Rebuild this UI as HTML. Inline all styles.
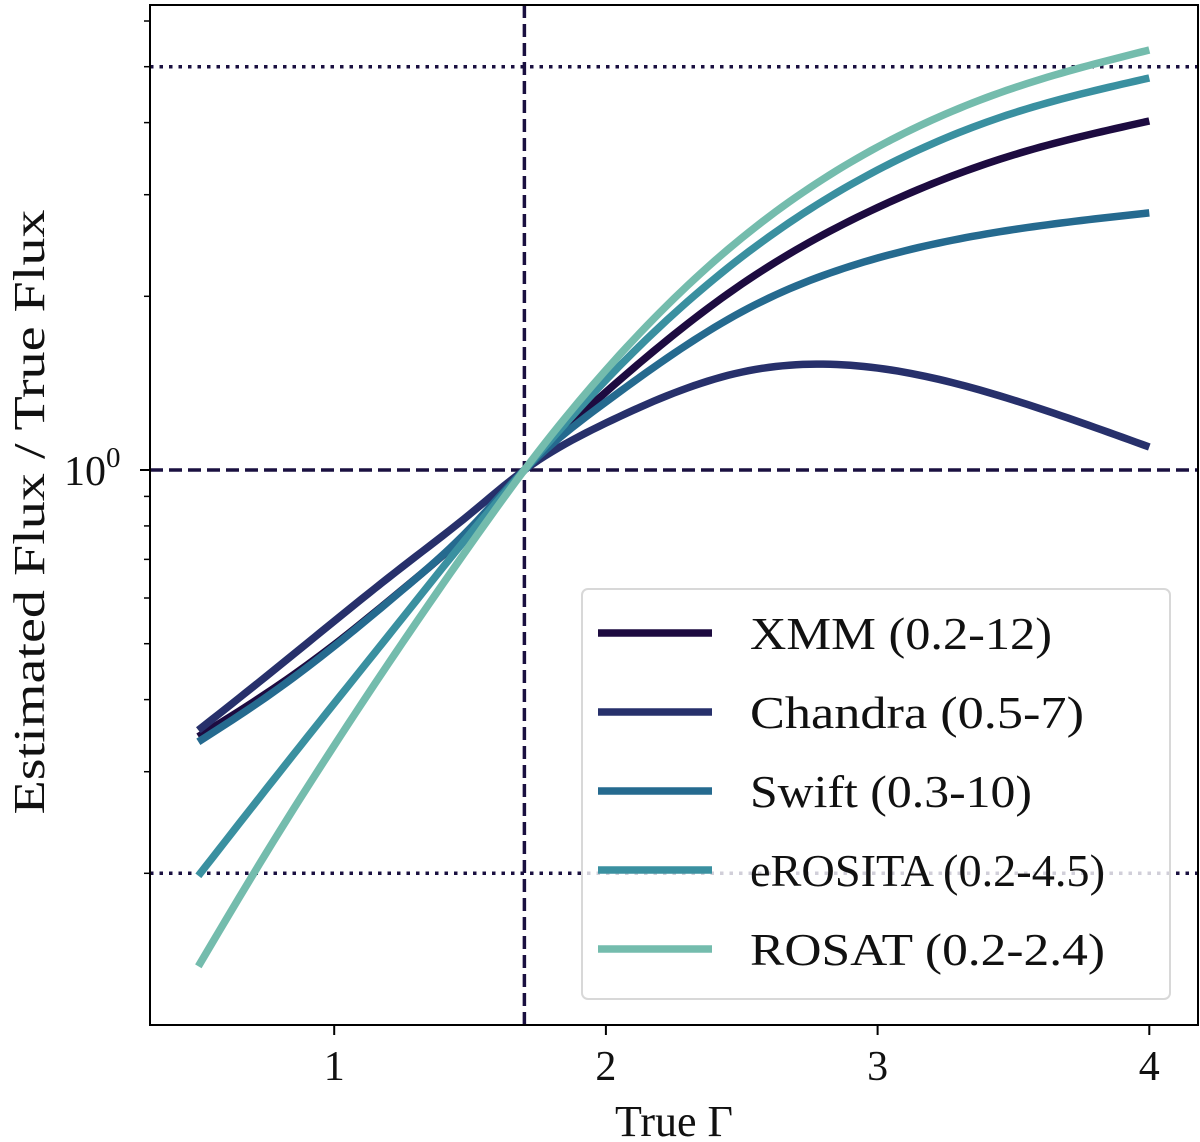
<!DOCTYPE html>
<html><head><meta charset="utf-8"><style>
html,body{margin:0;padding:0;background:#fff;}
svg{display:block;font-family:"Liberation Serif","DejaVu Serif",serif;}
</style></head><body>
<svg id="chart" width="1200" height="1142" viewBox="0 0 1200 1142" xmlns="http://www.w3.org/2000/svg">
<g id="plot"></g>
</svg>
<script>
const gammaGrid = [0.5, 0.75, 1, 1.25, 1.5, 1.7, 2, 2.5, 3, 3.5, 4];
const seriesNames = ["XMM (0.2-12)", "Chandra (0.5-7)", "Swift (0.3-10)", "eROSITA (0.2-4.5)", "ROSAT (0.2-2.4)"];
const xmmValues = [0.345, 0.410, 0.498, 0.620, 0.789, 1, 1.365, 2.10, 2.85, 3.516, 4.026];
const chandraValues = [0.354, 0.439, 0.547, 0.679, 0.839, 1, 1.206, 1.478, 1.502, 1.322, 1.096];
const swiftValues = [0.338, 0.404, 0.495, 0.619, 0.792, 1, 1.312, 1.88, 2.33, 2.61, 2.790];
const erositaValues = [0.198, 0.280, 0.394, 0.553, 0.775, 1, 1.432, 2.340, 3.311, 4.156, 4.780];
const rosatValues = [0.138, 0.217, 0.333, 0.501, 0.741, 1, 1.490, 2.524, 3.629, 4.592, 5.345];
const xTicks = [1, 2, 3, 4];
const yMinorTicks = [0.2, 0.3, 0.4, 0.5, 0.6, 0.7, 0.8, 0.9, 2, 3, 4, 5, 6];
const refGamma = 1.7, refRatio = 1, dottedHigh = 5, dottedLow = 0.2;

const colors = ["#1d0b40", "#27306b", "#256a8f", "#3a90a0", "#74bcad"];
const L = 150, R = 1198, T = 5, B = 1025;
const X = g => 62.5 + g * 271.7;
const Y = v => 470 - 577 * Math.log10(v);
const NS = "http://www.w3.org/2000/svg";
const plot = document.getElementById('plot');
function mk(tag, attrs, parent) {
  const e = document.createElementNS(NS, tag);
  for (const k in attrs) e.setAttribute(k, attrs[k]);
  (parent || plot).appendChild(e);
  return e;
}
function spline(xs, ys) {
  const n = xs.length, h = [], a = [], l = [1], mu = [0], z = [0], c = new Array(n).fill(0), b = [], d = [];
  for (let i = 0; i < n - 1; i++) h.push(xs[i + 1] - xs[i]);
  for (let i = 1; i < n - 1; i++) a[i] = 3 / h[i] * (ys[i + 1] - ys[i]) - 3 / h[i - 1] * (ys[i] - ys[i - 1]);
  for (let i = 1; i < n - 1; i++) {
    l[i] = 2 * (xs[i + 1] - xs[i - 1]) - h[i - 1] * mu[i - 1];
    mu[i] = h[i] / l[i];
    z[i] = (a[i] - h[i - 1] * z[i - 1]) / l[i];
  }
  for (let j = n - 2; j >= 0; j--) {
    c[j] = (j === 0 ? 0 : z[j]) - mu[j] * c[j + 1];
    if (j === 0) c[0] = 0;
    b[j] = (ys[j + 1] - ys[j]) / h[j] - h[j] * (c[j + 1] + 2 * c[j]) / 3;
    d[j] = (c[j + 1] - c[j]) / (3 * h[j]);
  }
  return x => {
    let i = 0;
    while (i < n - 2 && x > xs[i + 1]) i++;
    const dx = x - xs[i];
    return ys[i] + b[i] * dx + c[i] * dx * dx + d[i] * dx * dx * dx;
  };
}
const defs = mk('defs', {});
const cp = mk('clipPath', {id: 'clip'}, defs);
mk('rect', {x: L, y: T, width: R - L, height: B - T}, cp);

let e;
e = mk('line', {x1: L, x2: R, y1: Y(refRatio), y2: Y(refRatio), stroke: '#1a1040', 'stroke-width': 3.5, 'stroke-dasharray': '13,6'});


e = mk('line', {x1: X(refGamma), x2: X(refGamma), y1: T, y2: B, stroke: '#1a1040', 'stroke-width': 3.5, 'stroke-dasharray': '13,6'});


e = mk('line', {x1: L, x2: R, y1: Y(dottedHigh), y2: Y(dottedHigh), stroke: '#1a1040', 'stroke-width': 3.5, 'stroke-dasharray': '3.5,6'});


e = mk('line', {x1: L, x2: R, y1: Y(dottedLow), y2: Y(dottedLow), stroke: '#1a1040', 'stroke-width': 3.5, 'stroke-dasharray': '3.5,6'});



const allSeries = [xmmValues, chandraValues, swiftValues, erositaValues, rosatValues];
const seriesIds = ['xmm', 'chandra', 'swift', 'erosita', 'rosat'];
allSeries.forEach((vals, si) => {
  const f = spline(gammaGrid, vals.map(v => Math.log10(v)));
  const g0 = gammaGrid[0], g1 = gammaGrid[gammaGrid.length - 1];
  let d = '';
  for (let k = 0; k <= 140; k++) {
    const g = g0 + (g1 - g0) * k / 140;
    d += (k ? ' L' : 'M') + X(g).toFixed(2) + ',' + Y(Math.pow(10, f(g))).toFixed(2);
  }
  const p = mk('path', {d: d, fill: 'none', stroke: colors[si], 'stroke-width': 7.5, 'clip-path': 'url(#clip)'});
  
  
});

e = mk('rect', {x: L, y: T, width: R - L, height: B - T, fill: 'none', stroke: '#000', 'stroke-width': 2});



xTicks.forEach(t => {
  mk('line', {x1: X(t), x2: X(t), y1: B, y2: B + 10, stroke: '#000', 'stroke-width': 2});
  const tx = mk('text', {x: X(t), y: 1080, 'font-size': 42, 'text-anchor': 'middle', fill: '#111'});
  tx.textContent = t;
  
  
});
mk('line', {x1: L - 10, x2: L, y1: Y(1), y2: Y(1), stroke: '#000', 'stroke-width': 2});
yMinorTicks.forEach(t => {
  mk('line', {x1: L - 6, x2: L, y1: Y(t), y2: Y(t), stroke: '#000', 'stroke-width': 1.5});
});
e = mk('text', {x: 64, y: 485, 'font-size': 42, fill: '#111'});
e.innerHTML = '10<tspan dy="-18" font-size="29">0</tspan>';



e = mk('text', {x: 674, y: 1136, 'font-size': 44, 'text-anchor': 'middle', fill: '#111'});
e.textContent = 'True Γ';


e = mk('text', {x: 0, y: 0, 'font-size': 44, 'text-anchor': 'middle', fill: '#111', transform: 'translate(44,512) rotate(-90)', textLength: 605, lengthAdjust: 'spacingAndGlyphs'});
e.textContent = 'Estimated Flux / True Flux';



const lg = mk('g', {});


mk('rect', {x: 582, y: 589, width: 588, height: 410, rx: 6, fill: 'rgba(255,255,255,0.8)', stroke: '#d8d8d8', 'stroke-width': 2}, lg);
const textWidths = [302, 334, 282, 355, 355];
seriesNames.forEach((n, i) => {
  const yy = 633 + i * 79;
  const ent = mk('g', {}, lg);
  
  
  mk('line', {x1: 598, x2: 712, y1: yy, y2: yy, stroke: colors[i], 'stroke-width': 7.5}, ent);
  const t = mk('text', {x: 750, y: yy + 16, 'font-size': 46, fill: '#111', textLength: textWidths[i], lengthAdjust: 'spacingAndGlyphs'}, ent);
  t.textContent = n;
});
</script>
</body></html>
